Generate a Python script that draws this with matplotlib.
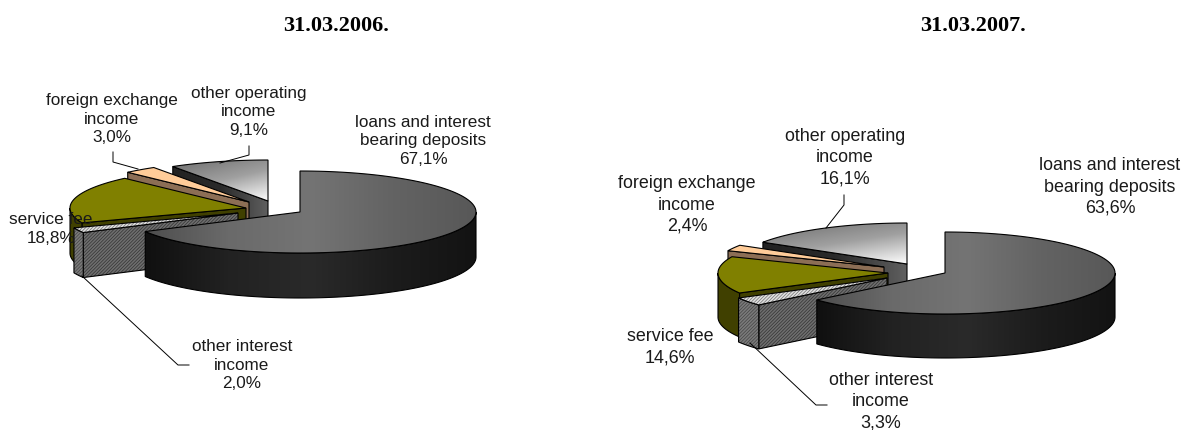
import numpy as np
import matplotlib
matplotlib.use('Agg')
import matplotlib.pyplot as plt
from matplotlib.colors import LinearSegmentedColormap
from matplotlib.patches import Polygon

plt.rcParams['font.family'] = ['Liberation Sans', 'DejaVu Sans']
plt.rcParams['hatch.linewidth'] = 0.5

dates = ['31.03.2006.', '31.03.2007.']
categories = ['loans and interest\nbearing deposits', 'other interest\nincome', 'service fee',
              'foreign exchange\nincome', 'other operating\nincome']
values_2006 = [67.1, 2.0, 18.8, 3.0, 9.1]
values_2007 = [63.6, 3.3, 14.6, 2.4, 16.1]

# slice apex positions in pixels, the pies are pulled apart by hand
centers_2006 = [(300, 212), (238, 213), (246, 208), (249, 202), (268, 201)]
centers_2007 = [(945, 273), (887, 278), (888, 273), (884, 267), (907, 264)]

# label anchor and leader line for each slice
labels_2006 = [(423, 141), (242, 365), (51, 229), (112, 119), (249, 112)]
labels_2007 = [(1110, 187), (881, 402), (670, 347), (687, 205), (845, 158)]
leaders_2006 = [None, [(82, 276), (178, 365), (189, 365)], None,
                [(113, 152), (113, 162), (138, 169)], [(249, 146), (249, 155), (220, 163)]]
leaders_2007 = [None, [(750, 343), (816, 405), (827, 405)], None, None,
                [(844, 195), (844, 205), (826, 228)]]


def ell(c, rx, ry, theta):
    # theta runs clockwise from twelve o'clock, in degrees
    t = np.radians(theta)
    return np.column_stack([c[0] + rx * np.sin(t), c[1] - ry * np.cos(t)])


def gradient(ax, pts, colors, direction=(1, 0), zorder=2):
    pts = np.asarray(pts)
    x0, y0 = pts.min(axis=0)
    x1, y1 = pts.max(axis=0)
    xx, yy = np.meshgrid(np.linspace(0, 1, 200), np.linspace(0, 1, 200))
    t = xx * direction[0] + yy * direction[1]
    t = (t - t.min()) / (t.max() - t.min())
    cmap = LinearSegmentedColormap.from_list('g', colors)
    im = ax.imshow(t, cmap=cmap, extent=(x0, x1, y1, y0), aspect='auto', zorder=zorder,
                   vmin=0, vmax=1, interpolation='bilinear')
    im.set_clip_path(Polygon(pts, closed=True, transform=ax.transData))


def face(ax, pts, style):
    if 'grad' in style:
        gradient(ax, pts, style['grad'], style.get('dir', (1, 0)))
    elif 'hatch' in style:
        ax.add_patch(Polygon(pts, closed=True, facecolor=style['color'], edgecolor=style['hatch'],
                             hatch='//////////', lw=0, zorder=2))
    else:
        ax.add_patch(Polygon(pts, closed=True, facecolor=style['color'], lw=0, zorder=2))
    ax.add_patch(Polygon(pts, closed=True, fill=False, edgecolor='black', lw=0.8, zorder=2))


def draw_slice(ax, c, rx, ry, depth, t0, t1, top, side, wall):
    arc = ell(c, rx, ry, np.linspace(t0, t1, 120))
    drop = np.array([0, depth])
    if np.sin(np.radians(t0)) < -1e-6:
        face(ax, [c, arc[0], arc[0] + drop, np.add(c, drop)], side)
    if np.sin(np.radians(t1)) > 1e-6:
        face(ax, [c, arc[-1], arc[-1] + drop, np.add(c, drop)], side)
    w0, w1 = max(t0, 90), min(t1, 270)
    if w1 > w0:
        w = ell(c, rx, ry, np.linspace(w0, w1, 120))
        face(ax, np.vstack([w, w[::-1] + drop]), wall)
    face(ax, np.vstack([[c], arc]), top)


def slice_styles():
    # one (top, cut face, outer wall) per category
    return [
        ({'grad': ['#4e4e4e', '#6a6a6a', '#747474', '#636363', '#585858']},
         {'color': '#222222'},
         {'grad': ['#101010', '#222222', '#2a2a2a', '#1c1c1c', '#131313']}),
        ({'color': '#e0e0e0', 'hatch': '#707070'},
         {'color': '#6e6e6e', 'hatch': '#333333'},
         {'color': '#7a7a7a', 'hatch': '#444444'}),
        ({'color': '#808000'}, {'color': '#404000'}, {'color': '#404000'}),
        ({'color': '#ffcc99'}, {'color': '#8c6e55'}, {'color': '#8c6e55'}),
        ({'grad': ['#6e6e6e', '#a0a0a0', '#ffffff'], 'dir': (0.55, 1)},
         {'grad': ['#222222', '#2a2a2a', '#606060']},
         {'color': '#333333'}),
    ]


def draw_pie(ax, values, centers, rx, ry, depth):
    edges = np.concatenate([[0], np.cumsum(values)]) * 3.6
    styles = slice_styles()
    # back slices first so the large front slice overlaps them
    for i in range(len(values) - 1, -1, -1):
        draw_slice(ax, centers[i], rx, ry, depth, edges[i], edges[i + 1], *styles[i])


def draw_labels(ax, values, anchors, leaders, size, spacing):
    for name, v, pos, line in zip(categories, values, anchors, leaders):
        txt = name + '\n' + f'{v:.1f}%'.replace('.', ',')
        ax.text(pos[0], pos[1], txt, ha='center', va='center', fontsize=size,
                linespacing=spacing, color='#1a1a1a', zorder=5)
        if line is not None:
            xs, ys = zip(*line)
            ax.plot(xs, ys, color='black', lw=0.7, zorder=4)


fig = plt.figure(figsize=(11.84, 4.30), dpi=100)
ax = fig.add_axes([0, 0, 1, 1])

draw_pie(ax, values_2006, centers_2006, 176, 41, 45)
draw_pie(ax, values_2007, centers_2007, 170, 41, 44)
draw_labels(ax, values_2006, labels_2006, leaders_2006, 12.3, 1.32)
draw_labels(ax, values_2007, labels_2007, leaders_2007, 12.9, 1.32)

ax.text(336, 26, dates[0], ha='center', va='center', fontsize=16, fontweight='bold',
        family=['Liberation Serif', 'DejaVu Serif'])
ax.text(973, 26, dates[1], ha='center', va='center', fontsize=16, fontweight='bold',
        family=['Liberation Serif', 'DejaVu Serif'])

ax.set_xlim(0, 1184)
ax.set_ylim(430, 0)
ax.axis('off')
fig.savefig('out.png', dpi=100)
